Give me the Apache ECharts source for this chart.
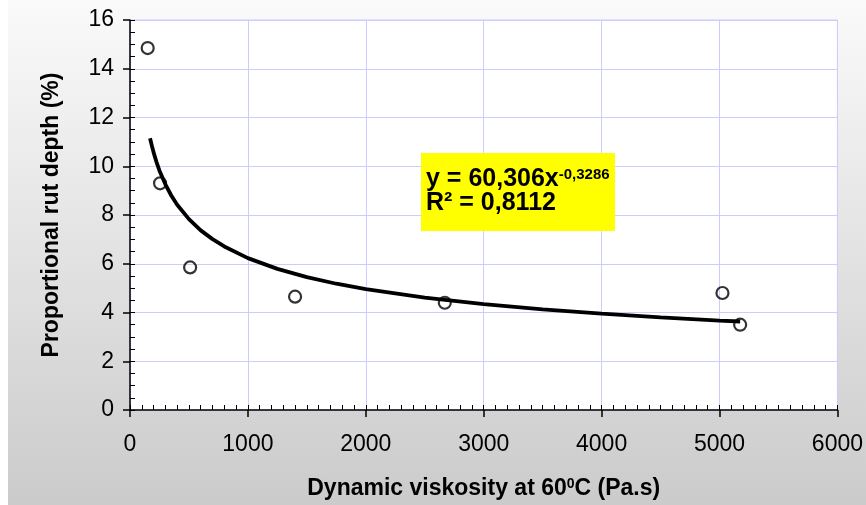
<!DOCTYPE html>
<html>
<head>
<meta charset="utf-8">
<script src="https://cdn.jsdelivr.net/npm/echarts@6/dist/echarts.min.js"></script>
<style>
html,body{margin:0;padding:0;background:#ffffff;}
#c{width:866px;height:505px;}
</style>
</head>
<body>
<div id="c"></div>
<script>
// Measured points
var pointX = [150, 255, 510, 1400, 2670, 5025, 5175];
var pointY = [14.85, 9.3, 5.85, 4.65, 4.4, 4.8, 3.5];
// Power trend line (y = 60,306x^-0,3286)
var trendX = [170, 185, 200, 225, 250, 300, 350, 400, 500, 600, 700, 800, 1000, 1250, 1500, 1750, 2000, 2500, 3000, 3500, 4000, 4500, 5000, 5175];
var trendY = [11.15, 10.85, 10.57, 10.17, 9.82, 9.26, 8.80, 8.42, 7.83, 7.37, 7.01, 6.71, 6.23, 5.79, 5.45, 5.18, 4.96, 4.61, 4.34, 4.13, 3.95, 3.80, 3.67, 3.63];
var xTicks = [0, 1000, 2000, 3000, 4000, 5000, 6000];
var yTicks = [0, 2, 4, 6, 8, 10, 12, 14, 16];
var xTitle = 'Dynamic viskosity at 60{sup|0}C (Pa.s)';
var yTitle = 'Proportional rut depth (%)';
var eqMain = 'y = 60,306x';
var eqExp = '-0,3286';
var r2Text = 'R² = 0,8112';

var scatterData = pointX.map(function (x, i) { return [x, pointY[i]]; });
var trendData = trendX.map(function (x, i) { return [x, trendY[i]]; });

var chart = echarts.init(document.getElementById('c'), null, {renderer: 'canvas'});
var font = '"Liberation Sans", Arial, sans-serif';

function baseX(extra) {
  return Object.assign({
    type: 'value', min: xTicks[0], max: xTicks[xTicks.length - 1], interval: 1000,
    position: 'bottom',
    splitLine: {show: false},
    axisLine: {show: false},
    axisTick: {show: false},
    axisLabel: {show: false}
  }, extra);
}
function baseY(extra) {
  return Object.assign({
    type: 'value', min: yTicks[0], max: yTicks[yTicks.length - 1], interval: 2,
    position: 'left',
    splitLine: {show: false},
    axisLine: {show: false},
    axisTick: {show: false},
    axisLabel: {show: false}
  }, extra);
}

chart.setOption({
  animation: false,
  backgroundColor: 'transparent',
  grid: {left: 130, right: 28, top: 20, bottom: 93, show: true, backgroundColor: '#ffffff', borderColor: '#ccccff', borderWidth: 1},
  xAxis: [
    baseX({
      splitLine: {show: true, lineStyle: {color: '#ccccff', width: 1}},
      axisLine: {show: true, onZero: false, lineStyle: {color: '#000', width: 1.5}},
      axisTick: {show: true, inside: false, length: 7, lineStyle: {color: '#000', width: 1.5}},
      axisLabel: {show: true, margin: 23, fontSize: 23, color: '#000', fontFamily: font,
        formatter: function (v) { return String(v); }},
      name: xTitle,
      nameLocation: 'middle',
      nameGap: 67,
      nameTextStyle: {fontSize: 23, fontWeight: 'bold', color: '#000', fontFamily: font,
        rich: {sup: {fontSize: 14, fontWeight: 'bold', verticalAlign: 'top', color: '#000', fontFamily: font, padding: [0, 0, 8, 0]}}}
    }),
    baseX({
      axisTick: {show: true, inside: true, length: 5, lineStyle: {color: '#000', width: 1}},
      minorTick: {show: true, splitNumber: 10, length: 5, lineStyle: {color: '#000', width: 1}}
    })
  ],
  yAxis: [
    baseY({
      splitLine: {show: true, lineStyle: {color: '#ccccff', width: 1}},
      axisLine: {show: true, onZero: false, lineStyle: {color: '#000', width: 1.5}},
      axisTick: {show: true, inside: false, length: 7, lineStyle: {color: '#000', width: 1.5}},
      axisLabel: {show: true, margin: 16, fontSize: 23, color: '#000', fontFamily: font},
      name: yTitle,
      nameLocation: 'middle',
      nameRotate: 90,
      nameGap: 67,
      nameTextStyle: {fontSize: 23, fontWeight: 'bold', color: '#000', fontFamily: font}
    }),
    baseY({
      axisTick: {show: true, inside: true, length: 5, lineStyle: {color: '#000', width: 1}},
      minorTick: {show: true, splitNumber: 4, length: 5, lineStyle: {color: '#000', width: 1}}
    })
  ],
  series: [
    {
      type: 'scatter', xAxisIndex: 0, yAxisIndex: 0, data: scatterData,
      symbol: 'circle', symbolSize: 12,
      itemStyle: {color: 'rgba(255,255,255,0)', borderColor: '#000', borderWidth: 2.2},
      z: 3
    },
    {
      type: 'line', xAxisIndex: 0, yAxisIndex: 0, data: trendData,
      showSymbol: false, smooth: false,
      lineStyle: {color: '#000', width: 3.8},
      z: 4
    }
  ],
  graphic: [
    {
      type: 'rect', z: -100, silent: true,
      shape: {x: 8, y: 0, width: 858, height: 505},
      style: {fill: new echarts.graphic.LinearGradient(0, 0, 0, 1, [
        {offset: 0, color: '#fafafa'}, {offset: 1, color: '#cbcbcb'}])}
    },
    {
      type: 'rect', z: 100, silent: true,
      shape: {x: 421, y: 153, width: 194, height: 78},
      style: {fill: '#ffff00'}
    },
    {
      type: 'text', z: 101, silent: true,
      left: 426, top: 167,
      style: {
        text: eqMain + '{sup|' + eqExp + '}',
        font: 'bold 25px ' + font, fill: '#000',
        rich: {sup: {fontSize: 15, fontWeight: 'bold', fontFamily: font, fill: '#000', verticalAlign: 'top', padding: [0, 0, 10, 0]}}
      }
    },
    {
      type: 'text', z: 101, silent: true,
      left: 426, top: 191,
      style: {text: r2Text, font: 'bold 25px ' + font, fill: '#000'}
    }
  ]
});
</script>
</body>
</html>
